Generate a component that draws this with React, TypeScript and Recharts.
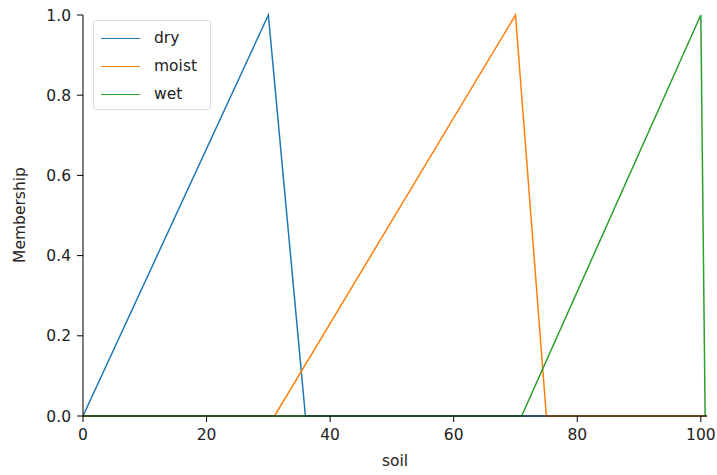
import React from 'react';
import { LineChart, Line, XAxis, YAxis } from 'recharts';

// membership functions for "soil"
const dry = [
  { x: 0, y: 0 },
  { x: 30, y: 1 },
  { x: 36, y: 0 },
  { x: 101, y: 0 },
];
const moist = [
  { x: 0, y: 0 },
  { x: 31, y: 0 },
  { x: 70, y: 1 },
  { x: 75, y: 0 },
  { x: 101, y: 0 },
];
const wet = [
  { x: 0, y: 0 },
  { x: 71, y: 0 },
  { x: 100, y: 1 },
  { x: 100.7, y: 0 },
];

const xTicks = [0, 20, 40, 60, 80, 100];
const yTicks = [0, 0.2, 0.4, 0.6, 0.8, 1.0];

const series = [
  { name: 'dry', data: dry, color: '#1f77b4' },
  { name: 'moist', data: moist, color: '#ff7f0e' },
  { name: 'wet', data: wet, color: '#2ca02c' },
];

const FONT = '"DejaVu Sans", sans-serif';
const tickStyle = { fontSize: 15.5, fill: '#222', fontFamily: FONT };

const App: React.FC = () => {
  return (
    <div style={{ position: 'absolute', left: 0, top: 0, width: 717, height: 475, background: '#fff', fontFamily: FONT }}>
      <LineChart width={717} height={475} margin={{ top: 15, right: 10, bottom: 29, left: 23 }}>
        <XAxis
          type="number"
          dataKey="x"
          domain={[0, 101]}
          ticks={xTicks}
          allowDataOverflow
          height={30}
          tick={tickStyle}
          tickSize={6}
          tickMargin={7}
          stroke="#000"
        />
        <YAxis
          type="number"
          dataKey="y"
          domain={[0, 1]}
          ticks={yTicks}
          tickFormatter={(v: number) => v.toFixed(1)}
          width={60}
          tick={tickStyle}
          tickSize={6}
          tickMargin={6}
          stroke="#000"
        />
        {series.map((s) => (
          <Line
            key={s.name}
            data={s.data}
            dataKey="y"
            type="linear"
            stroke={s.color}
            strokeWidth={1.5}
            dot={false}
            isAnimationActive={false}
          />
        ))}
      </LineChart>

      {/* legend */}
      <div
        style={{
          position: 'absolute', left: 93, top: 20, width: 118, height: 90,
          border: '1px solid #ddd', borderRadius: 3, background: 'rgba(255,255,255,0.8)', boxSizing: 'border-box',
        }}
      >
        {series.map((s, i) => (
          <div key={s.name} style={{ position: 'absolute', left: 7, top: 6 + i * 28, height: 22, display: 'flex', alignItems: 'center' }}>
            <div style={{ width: 39, height: 0, borderTop: `1.5px solid ${s.color}` }} />
            <span style={{ marginLeft: 14, fontSize: 15.5, color: '#222' }}>{s.name}</span>
          </div>
        ))}
      </div>

      {/* axis labels */}
      <div style={{ position: 'absolute', left: 345, width: 100, top: 452, textAlign: 'center', fontSize: 15.5, color: '#222' }}>soil</div>
      <div
        style={{
          position: 'absolute', left: 20, top: 215, fontSize: 15.5, color: '#222', whiteSpace: 'nowrap',
          transform: 'translate(-50%, -50%) rotate(-90deg)',
        }}
      >
        Membership
      </div>
    </div>
  );
};

export default App;
